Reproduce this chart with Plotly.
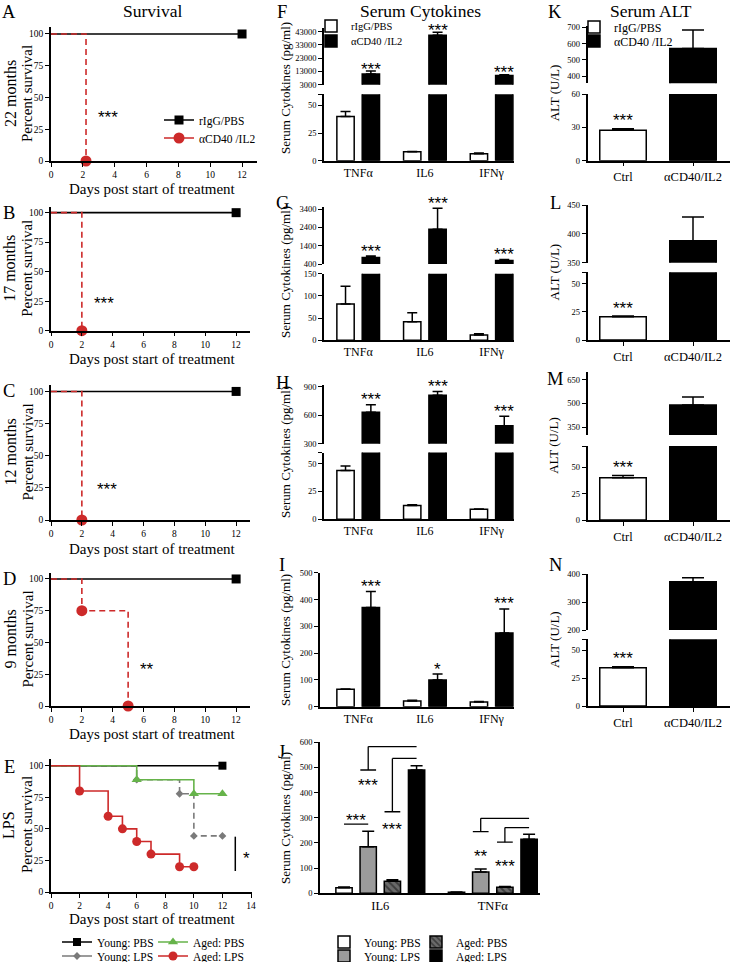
import plotly.graph_objects as go

W, H = 734, 962
SERIF = "Liberation Serif, Times New Roman, serif"
SANS = "Liberation Sans, Arial, sans-serif"
RED = "#cd2a2a"
GREEN = "#66b34a"
GREY = "#7a7a7a"

# ---------------- data ----------------
day_ticks_12 = [0, 2, 4, 6, 8, 10, 12]
day_ticks_14 = [0, 2, 4, 6, 8, 10, 12, 14]
pct_ticks = [0, 25, 50, 75, 100]

ctrl_days = [0, 12]
ctrl_pct = [100, 100]
A_trt_days = [0, 2.2]
A_trt_pct = [100, 0]
B_trt_days = [0, 2]
B_trt_pct = [100, 0]
C_trt_days = [0, 2]
C_trt_pct = [100, 0]
D_trt_days = [0, 2, 5]
D_trt_pct = [100, 75, 0]
ages = ["22 months", "17 months", "12 months", "9 months"]
survival_sig = ["***", "***", "***", "**"]
survival_sig_pos = [(3.6, 38), (3.45, 27), (3.6, 28), (6.2, 33)]

E_young_pbs_days = [0, 12]
E_young_pbs_pct = [100, 100]
E_aged_pbs_days = [0, 6, 10, 12]
E_aged_pbs_pct = [100, 88.9, 77.8, 77.8]
E_young_lps_days = [0, 6, 9, 10, 12]
E_young_lps_pct = [100, 88.9, 77.8, 44.4, 44.4]
E_aged_lps_days = [0, 2, 4, 5, 6, 7, 9, 10]
E_aged_lps_pct = [100, 80, 60, 50, 40, 30, 20, 20]
E_sig_span = [16.6, 43.8]

cyto_cats = ["TNFα", "IL6", "IFNγ"]
F_ctrl = [40, 8, 6.2]
F_ctrl_err = [4.5, 0.4, 0.8]
F_trt = [11000, 40300, 10000]
F_trt_err = [2300, 2200, 500]
G_ctrl = [82, 42, 12]
G_ctrl_err = [40, 20, 3]
G_trt = [760, 2300, 590]
G_trt_err = [70, 1140, 60]
H_ctrl = [44, 12.5, 9]
H_ctrl_err = [4, 0.5, 0.3]
H_trt = [630, 810, 490]
H_trt_err = [80, 40, 100]
I_ctrl = [65, 22, 18]
I_ctrl_err = [1.5, 2, 2]
I_trt = [370, 100, 275]
I_trt_err = [60, 22, 90]
F_sig = ["***", "***", "***"]
G_sig = ["***", "***", "***"]
H_sig = ["***", "***", "***"]
I_sig = ["***", "*", "***"]

alt_cats = ["Ctrl", "αCD40/IL2"]
K_vals = [27.5, 570]
K_err = [1.2, 113]
L_vals = [20.6, 388]
L_err = [0.6, 41]
M_vals = [40, 490]
M_err = [2, 50]
N_vals = [34.3, 372]
N_err = [1, 15]

J_cats = ["IL6", "TNFα"]
J_young_pbs = [22, 4]
J_young_pbs_err = [3, 1]
J_young_lps = [185, 85]
J_young_lps_err = [62, 12]
J_aged_pbs = [48, 24]
J_aged_pbs_err = [6, 3]
J_aged_lps = [490, 215]
J_aged_lps_err = [17, 20]
# (category, bar i, bar j, short-line level, top level, label, label level)
J_step_sig = [("IL6", 1, 3, 490, 583, "***", 450),
              ("IL6", 2, 3, 324, 536, "***", 275),
              ("TNFα", 1, 3, 245, 298, "**", 165),
              ("TNFα", 2, 3, 203, 261, "***", 126)]
J_simple_sig = [("IL6", 0, 1, 275, "***", 311)]

# ---------------- helpers ----------------
fig = go.Figure()
axis_n = [0]
leg_n = [0]


def axstyle(**kw):
    d = dict(showgrid=False, zeroline=False, showline=True, linecolor="black",
             linewidth=1.5, ticks="outside", ticklen=4, tickwidth=1.2,
             tickcolor="black", fixedrange=True,
             tickfont=dict(family=SERIF, size=9.5, color="black"))
    d.update(kw)
    return d


def new_axes(x0, x1, top, bot, xkw, ykw):
    axis_n[0] += 1
    n = axis_n[0]
    s = "" if n == 1 else str(n)
    xd = axstyle(domain=[x0 / W, x1 / W], anchor="y" + s)
    xd.update(xkw)
    yd = axstyle(domain=[1 - bot / H, 1 - top / H], anchor="x" + s)
    yd.update(ykw)
    fig.update_layout({"xaxis" + s: xd, "yaxis" + s: yd})
    return "x" + s, "y" + s


def text(x, y, t, size, angle=0, family=SERIF, xanchor="center"):
    fig.add_annotation(x=x / W, y=1 - y / H, xref="paper", yref="paper", text=t,
                       showarrow=False, textangle=angle, xanchor=xanchor, yanchor="middle",
                       font=dict(family=family, size=size, color="black"))


def star(xa, ya, x, y, t, shift, size=17):
    fig.add_annotation(x=x, y=y, xref=xa, yref=ya, text=t, showarrow=False,
                       xanchor="center", yanchor="middle", yshift=shift - 5,
                       font=dict(family=SANS, size=size, color="black"))


def make_legend(text_x, y, size):
    leg_n[0] += 1
    name = "legend" if leg_n[0] == 1 else "legend%d" % leg_n[0]
    fig.update_layout({name: dict(x=(text_x - 40) / W, y=1 - y / H, xanchor="left",
                                  yanchor="middle", bgcolor="rgba(0,0,0,0)", borderwidth=0,
                                  itemwidth=30, tracegroupgap=0,
                                  font=dict(family=SERIF, size=size, color="black"))})
    return name


def km(xa, ya, days, pct, color, dash, symbol, msize):
    fig.add_trace(go.Scatter(x=days, y=pct, mode="lines",
                             line=dict(color=color, width=1.6, dash=dash, shape="hv"),
                             xaxis=xa, yaxis=ya, showlegend=False, cliponaxis=False,
                             hoverinfo="skip"))
    fig.add_trace(go.Scatter(x=days[1:], y=pct[1:], mode="markers",
                             marker=dict(color=color, symbol=symbol, size=msize),
                             xaxis=xa, yaxis=ya, showlegend=False, cliponaxis=False,
                             hoverinfo="skip"))


def legend_entry(xa, ya, name, legend, color, dash, symbol, msize):
    fig.add_trace(go.Scatter(x=[None], y=[None], mode="lines+markers", name=name,
                             line=dict(color=color, width=1.6, dash=dash),
                             marker=dict(color=color, symbol=symbol, size=msize),
                             xaxis=xa, yaxis=ya, legend=legend, showlegend=True))


# ---------------- survival A-D ----------------
surv_geom = [dict(top=27, bot=161, x1=257, xmax=12.94, ymax=105.5, days_y=189),
             dict(top=207, bot=330.7, x1=250, xmax=12.9, ymax=104.8, days_y=359),
             dict(top=385, bot=520, x1=250, xmax=12.9, ymax=105, days_y=549),
             dict(top=573, bot=706, x1=250, xmax=12.9, ymax=104.7, days_y=734)]
trt_sets = [(A_trt_days, A_trt_pct), (B_trt_days, B_trt_pct),
            (C_trt_days, C_trt_pct), (D_trt_days, D_trt_pct)]
letters_col1 = ["A", "B", "C", "D"]

for i, g in enumerate(surv_geom):
    xa, ya = new_axes(51, g["x1"], g["top"], g["bot"],
                      dict(range=[0, g["xmax"]], tickvals=day_ticks_12),
                      dict(range=[0, g["ymax"]], tickvals=pct_ticks))
    km(xa, ya, ctrl_days, ctrl_pct, "black", "solid", "square", 9)
    td, tp = trt_sets[i]
    km(xa, ya, td, tp, RED, "6px,4px", "circle", 11)
    sx, sy = survival_sig_pos[i]
    star(xa, ya, sx, sy, survival_sig[i], 0)
    cy = (g["top"] + g["bot"]) / 2
    text(10, cy, ages[i], 16, angle=-90)
    text(27, cy, "Percent survival", 15, angle=-90)
    text(152, g["days_y"], "Days post start of treatment", 15)
    text(9, 12 if i == 0 else g["top"] + 6, letters_col1[i], 18.5)
    if i == 0:
        l1 = make_legend(199, 120, 11.5)
        l2 = make_legend(199, 138, 11.5)
        legend_entry(xa, ya, "rIgG/PBS", l1, "black", "solid", "square", 9)
        legend_entry(xa, ya, "αCD40 /IL2", l2, RED, "solid", "circle", 11)

# ---------------- survival E ----------------
xa, ya = new_axes(51, 252, 759, 892,
                  dict(range=[0, 14.07], tickvals=day_ticks_14),
                  dict(range=[0, 105.3], tickvals=pct_ticks))
km(xa, ya, E_young_lps_days, E_young_lps_pct, GREY, "6px,4px", "diamond", 6)
km(xa, ya, E_young_pbs_days, E_young_pbs_pct, "black", "solid", "square", 8)
km(xa, ya, E_aged_pbs_days, E_aged_pbs_pct, GREEN, "solid", "triangle-up", 9)
km(xa, ya, E_aged_lps_days, E_aged_lps_pct, RED, "solid", "circle", 9)
fig.add_shape(type="line", xref=xa, yref=ya, x0=12.9, x1=12.9,
              y0=E_sig_span[0], y1=E_sig_span[1], line=dict(color="black", width=1.5))
star(xa, ya, 13.7, sum(E_sig_span) / 2, "*", 0)
text(8, 825, "LPS", 16, angle=-90)
text(27, 825, "Percent survival", 15, angle=-90)
text(152, 919, "Days post start of treatment", 15)
text(9, 767, "E", 18.5)
for name, col, dash, sym, ms, tx, ty in [
        ("Young: PBS", "black", "solid", "square", 8, 97, 942),
        ("Aged: PBS", GREEN, "solid", "triangle-up", 9, 193, 942),
        ("Young: LPS", GREY, "solid", "diamond", 6, 97, 956),
        ("Aged: LPS", RED, "solid", "circle", 9, 193, 956)]:
    legend_entry(xa, ya, name, make_legend(tx, ty, 11.5), col, dash, sym, ms)


# ---------------- bar panels ----------------
def bar_panel(x0, x1, xr, cats, segs, groups, star_list, errw, cat_size, xtick_len):
    refs = []
    for si, sg in enumerate(segs):
        bottom = si == len(segs) - 1
        tv = list(sg["ticks"])
        tt = [str(v) for v in tv]
        if sg.get("cap") is not None:
            tv.append(sg["cap"])
            tt.append("")
        xkw = dict(type="category", categoryorder="array", categoryarray=cats, range=xr)
        if bottom:
            xkw.update(ticks="outside" if xtick_len else "", ticklen=xtick_len,
                       tickfont=dict(family=SERIF, size=cat_size, color="black"))
        else:
            xkw.update(showline=False, showticklabels=False, ticks="")
        ykw = dict(range=sg["yr"], tickvals=tv, ticktext=tt,
                   tickfont=dict(family=SERIF, size=8.5, color="black"))
        xa, ya = new_axes(x0, x1, sg["top"], sg["bot"], xkw, ykw)
        refs.append((xa, ya, sg["yr"]))
        for g in groups:
            show = bottom and g.get("legend") is not None
            fig.add_trace(go.Bar(
                x=g["x"], y=g["vals"], offset=g["offset"], width=g["width"],
                marker=dict(color=g["color"], line=dict(color="black", width=1.5),
                            pattern=g.get("pattern")),
                error_y=dict(type="data", array=g["errs"], arrayminus=[0] * len(g["errs"]),
                             symmetric=False, color="black", thickness=1.5, width=errw),
                xaxis=xa, yaxis=ya, name=g["name"], showlegend=show,
                legend=g.get("legend") or "legend", hoverinfo="skip"))
    for gi, ci, t, sh in star_list:
        g = groups[gi]
        top = g["vals"][ci] + g["errs"][ci]
        ref = refs[-1]
        for r in refs:
            if r[2][0] <= top <= r[2][1]:
                ref = r
                break
        xpos = cats.index(g["x"][ci]) + g["offset"] + g["width"] / 2
        star(ref[0], ref[1], xpos, top, t, sh)
    return refs


cyto_specs = [
    ("F", F_ctrl, F_ctrl_err, F_trt, F_trt_err, F_sig, 324,
     [dict(top=28, bot=84.7, yr=[3000, 45800], ticks=[3000, 13000, 23000, 33000, 43000]),
      dict(top=94.3, bot=160.7, yr=[0, 60], ticks=[0, 25, 50], cap=60)], 12, 88, 7),
    ("G", G_ctrl, G_ctrl_err, G_trt, G_trt_err, G_sig, 324,
     [dict(top=207, bot=264, yr=[400, 3509], ticks=[400, 1400, 2400, 3400]),
      dict(top=273.7, bot=340.3, yr=[0, 150], ticks=[0, 50, 100, 150])], 203, 272, 10),
    ("H", H_ctrl, H_ctrl_err, H_trt, H_trt_err, H_sig, 324,
     [dict(top=385, bot=443.7, yr=[300, 918], ticks=[300, 600, 900]),
      dict(top=452.6, bot=519.3, yr=[0, 60], ticks=[0, 25, 50], cap=60)], 383, 452, 10),
    ("I", I_ctrl, I_ctrl_err, I_trt, I_trt_err, I_sig, 320,
     [dict(top=572.7, bot=706.8, yr=[0, 500], ticks=[0, 100, 200, 300, 400, 500])], 565, 640, 10),
]
for letter, cv, ce, tvv, te, sig, x0, segs, ly, cy, sshift in cyto_specs:
    c0, sp = 358.2, 66.7
    xr = [(x0 - c0) / sp, (514 - c0) / sp]
    groups = [dict(name="rIgG/PBS", x=cyto_cats, vals=cv, errs=ce, color="white",
                   offset=-0.32, width=0.26),
              dict(name="αCD40 /IL2", x=cyto_cats, vals=tvv, errs=te, color="black",
                   offset=0.06, width=0.26)]
    if letter == "F":
        groups[0]["legend"] = make_legend(351, 26, 10.5)
        groups[1]["legend"] = make_legend(351, 41, 10.5)
    stars = [(1, k, sig[k], sshift) for k in range(3)]
    bar_panel(x0, 514, xr, cyto_cats, segs, groups, stars, 5, 12, 0)
    text(285, cy, "Serum Cytokines (pg/ml)", 13, angle=-90)
    text(282, ly, letter, 18.5)

alt_specs = [
    ("K", K_vals, K_err, [dict(top=26, bot=83.3, yr=[355, 708], ticks=[400, 500, 600, 700]),
                          dict(top=94, bot=160.7, yr=[0, 60], ticks=[0, 30, 60])], 12),
    ("L", L_vals, L_err, [dict(top=205, bot=262.7, yr=[350, 450], ticks=[350, 400, 450]),
                          dict(top=272.3, bot=340, yr=[0, 60], ticks=[0, 25, 50], cap=60)], 203),
    ("M", M_vals, M_err, [dict(top=371.7, bot=435, yr=[300, 700], ticks=[350, 500, 650]),
                          dict(top=446, bot=520, yr=[0, 70], ticks=[0, 25, 50], cap=70)], 379),
    ("N", N_vals, N_err, [dict(top=574, bot=630, yr=[200, 400], ticks=[200, 300, 400]),
                          dict(top=639.3, bot=706, yr=[0, 60], ticks=[0, 25, 50], cap=60)], 565),
]
for letter, vals, errs, segs, ly in alt_specs:
    c0, sp = 623, 70
    xr = [(587.5 - c0) / sp, (730 - c0) / sp]
    groups = [dict(name="rIgG/PBS", x=alt_cats[:1], vals=vals[:1], errs=errs[:1],
                   color="white", offset=-0.332, width=0.664),
              dict(name="αCD40 /IL2", x=alt_cats[1:], vals=vals[1:], errs=errs[1:],
                   color="black", offset=-0.332, width=0.664)]
    if letter == "K":
        groups[0]["legend"] = make_legend(614, 27, 12)
        groups[1]["legend"] = make_legend(614, 41, 12)
    bar_panel(587.5, 730, xr, alt_cats, segs, groups, [(0, 0, "***", 13)], 11, 12.5, 4)
    cy = (segs[0]["top"] + segs[-1]["bot"]) / 2
    text(554, cy, "ALT (U/L)", 13, angle=-90)
    text(555, ly, letter, 18.5)

# ---------------- J ----------------
J_spacing = 0.215
J_width = 0.145
J_groups = []
J_series = [("Young: PBS", J_young_pbs, J_young_pbs_err, "white", None, 364, 942),
            ("Young: LPS", J_young_lps, J_young_lps_err, "#9b9b9b", None, 364, 956),
            ("Aged: PBS", J_aged_pbs, J_aged_pbs_err, "#6a6a6a",
             dict(shape="\\", fgcolor="#111111", size=5, solidity=0.4, fillmode="overlay"), 456, 942),
            ("Aged: LPS", J_aged_lps, J_aged_lps_err, "black", None, 456, 956)]
for k, (name, v, e, col, pat, tx, ty) in enumerate(J_series):
    J_groups.append(dict(name=name, x=J_cats, vals=v, errs=e, color=col, pattern=pat,
                         offset=(k - 1.5) * J_spacing - J_width / 2, width=J_width,
                         legend=make_legend(tx, ty, 11.5)))
c0, sp = 380.3, 112.5
refs = bar_panel(320, 540, [(320 - c0) / sp, (540 - c0) / sp], J_cats,
                 [dict(top=742.3, bot=893.3, yr=[0, 600], ticks=[0, 100, 200, 300, 400, 500, 600])],
                 J_groups, [], 6, 12.5, 0)
jx, jy = refs[0][0], refs[0][1]


def jpos(cat, k):
    return J_cats.index(cat) + (k - 1.5) * J_spacing


def jline(xa0, ya0, xa1, ya1):
    fig.add_shape(type="line", xref=jx, yref=jy, x0=xa0, y0=ya0, x1=xa1, y1=ya1,
                  line=dict(color="black", width=1.3))


half = 0.07
for cat, i, j, low, high, lab, laby in J_step_sig:
    xi, xj = jpos(cat, i), jpos(cat, j)
    jline(xi - half, low, xi + half, low)
    jline(xi, low, xi, high)
    jline(xi, high, xj, high)
    star(jx, jy, xi, laby, lab, 0)
for cat, i, j, lvl, lab, laby in J_simple_sig:
    jline(jpos(cat, i), lvl, jpos(cat, j), lvl)
    star(jx, jy, (jpos(cat, i) + jpos(cat, j)) / 2, laby, lab, 0)
text(285, 818, "Serum Cytokines (pg/ml)", 13, angle=-90)
text(281, 752, "J", 18.5)

# ---------------- titles ----------------
text(152, 11, "Survival", 17.5)
text(420, 10.5, "Serum Cytokines", 17.5)
text(651, 11, "Serum ALT", 17.5)

fig.update_layout(width=W, height=H,
                  margin=dict(l=0, r=0, t=0, b=0, autoexpand=False),
                  paper_bgcolor="white", plot_bgcolor="white", barmode="overlay",
                  showlegend=True, hovermode=False)

fig.write_html("out.html", config={"displayModeBar": False},
               post_script="document.body.style.margin='0';")
